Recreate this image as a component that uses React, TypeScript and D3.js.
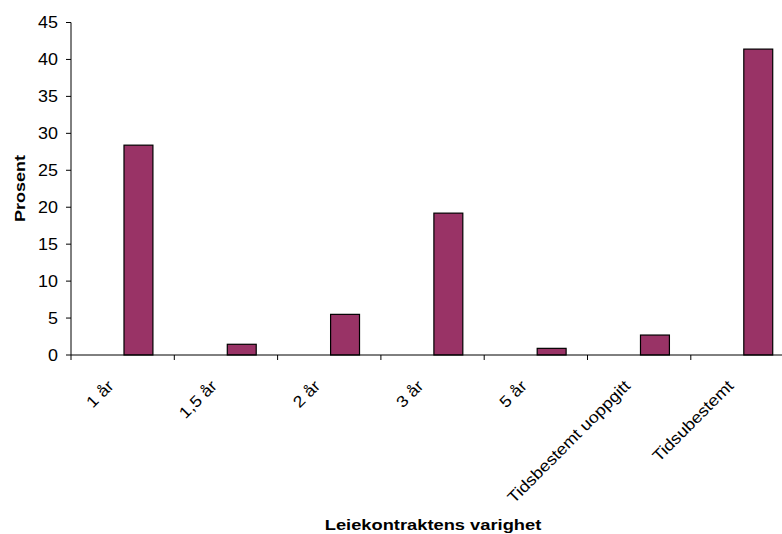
import React from "react";
import * as d3 from "d3";

const categories = ["1 år", "1,5 år", "2 år", "3 år", "5 år", "Tidsbestemt uoppgitt", "Tidsubestemt"];
const values = [28.4, 1.45, 5.5, 19.2, 0.9, 2.7, 41.4];
const yTicks = [0, 5, 10, 15, 20, 25, 30, 35, 40, 45];
const xTitle = "Leiekontraktens varighet";
const yTitle = "Prosent";

const W = 782;
const H = 534;
const left = 71;
const bandW = 103.3;
const FONT = "'Liberation Sans', Arial, sans-serif";
const SX = 1.12;

export default function App() {
  const x = d3
    .scaleBand<string>()
    .domain(categories)
    .range([left, left + bandW * categories.length])
    .paddingInner(0)
    .paddingOuter(0);
  const y = d3.scaleLinear().domain([0, 45]).range([355, 22.5]);
  const bw = x.bandwidth();
  const y0 = y(0);

  return (
    <svg
      width={W}
      height={H}
      style={{ position: "absolute", left: 0, top: 0, background: "#fff" }}
      fontFamily={FONT}
    >
      {categories.map((c, i) => (
        <rect
          key={c}
          x={(x(c) as number) + bw * 0.513}
          y={y(values[i])}
          width={bw * 0.28}
          height={y0 - y(values[i])}
          fill="#993366"
          stroke="#000"
          strokeWidth={1.2}
        />
      ))}
      <line x1={left} x2={left} y1={y(45)} y2={y0} stroke="#000" strokeWidth={1} />
      {yTicks.map((t) => (
        <g key={t}>
          <line x1={left - 5} x2={left} y1={y(t)} y2={y(t)} stroke="#000" />
          <text
            transform={`translate(58,${y(t) + 5.7}) scale(${SX},1)`}
            textAnchor="end"
            fontSize={16}
            fill="#000"
          >
            {t}
          </text>
        </g>
      ))}
      <line x1={left} x2={left + bw * categories.length} y1={y0} y2={y0} stroke="#000" />
      {d3.range(categories.length + 1).map((i) => (
        <line
          key={i}
          x1={left + bw * i}
          x2={left + bw * i}
          y1={y0}
          y2={y0 + 5}
          stroke="#000"
        />
      ))}
      {categories.map((c) => {
        const cx = (x(c) as number) + bw / 2;
        return (
          <text
            key={c}
            transform={`translate(${cx - 8},387) rotate(-45) scale(${SX},1)`}
            textAnchor="end"
            fontSize={16}
            fill="#000"
          >
            {c}
          </text>
        );
      })}
      <text
        transform={`translate(433,530) scale(1.22,1)`}
        textAnchor="middle"
        fontSize={15}
        fontWeight="bold"
        fill="#000"
      >
        {xTitle}
      </text>
      <text
        transform={`translate(25,188.5) rotate(-90) scale(1.2,1)`}
        textAnchor="middle"
        fontSize={15}
        fontWeight="bold"
        fill="#000"
      >
        {yTitle}
      </text>
    </svg>
  );
}
